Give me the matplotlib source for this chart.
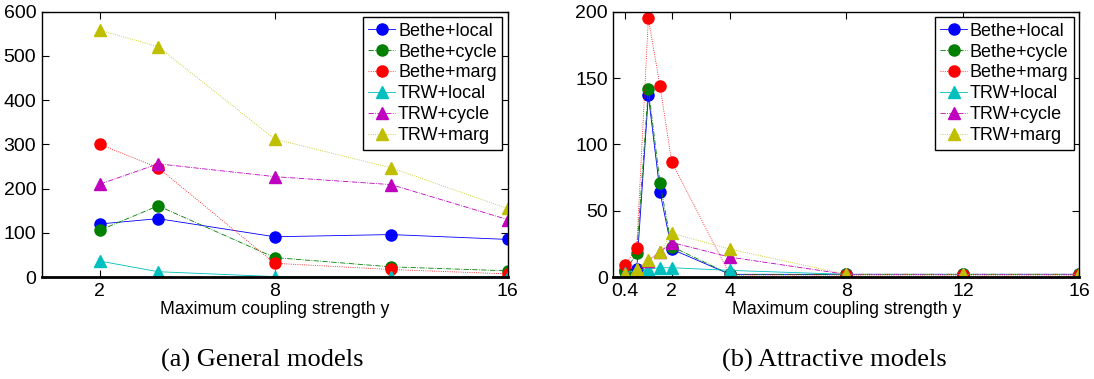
import numpy as np
import matplotlib
matplotlib.use('Agg')
import matplotlib.pyplot as plt

plt.rcParams['font.family'] = ['Liberation Sans', 'DejaVu Sans']

# ---------------- data ----------------
series_names = ['Bethe+local', 'Bethe+cycle', 'Bethe+marg',
                'TRW+local', 'TRW+cycle', 'TRW+marg']

# (a) general models
x_general = [2, 4, 8, 12, 16]
general = {
    'Bethe+local': [120, 132, 91, 96, 85],
    'Bethe+cycle': [106, 161, 44, 23, 14],
    'Bethe+marg':  [300, 247, 31, 17, 7],
    'TRW+local':   [36, 12, 1, 0.5, 0.5],
    'TRW+cycle':   [210, 256, 227, 209, 130],
    'TRW+marg':    [558, 521, 312, 247, 155],
}

# (b) attractive models
x_attract = [0.4, 0.8, 1.2, 1.6, 2, 4, 8, 12, 16]
attract = {
    'Bethe+local': [5, 6, 137, 64, 21, 2, 2, 2, 2],
    'Bethe+cycle': [4, 18, 142, 71, 23, 2, 2, 2, 2],
    'Bethe+marg':  [9, 22, 195, 144, 87, 1.5, 1.5, 1.5, 1.5],
    'TRW+local':   [3, 5, 6, 7, 7, 5, 2, 2, 2],
    'TRW+cycle':   [2, 4, 12, 19, 26, 15, 2, 2, 2],
    'TRW+marg':    [2.5, 6, 13, 19, 33, 21, 2, 2, 2],
}

# ---------------- styles ----------------
styles = {
    'Bethe+local': dict(color='b', ls='-', marker='o'),
    'Bethe+cycle': dict(color=(0, 0.5, 0), ls='-.', marker='o'),
    'Bethe+marg':  dict(color='r', ls=':', marker='o'),
    'TRW+local':   dict(color=(0, 0.75, 0.75), ls='-', marker='^'),
    'TRW+cycle':   dict(color=(0.75, 0, 0.75), ls='-.', marker='^'),
    'TRW+marg':    dict(color=(0.75, 0.75, 0), ls=':', marker='^'),
}

fig = plt.figure(figsize=(10.94, 3.79), dpi=100)
ax1 = fig.add_axes((0.0381, 0.2691, 0.4258, 0.700))
ax2 = fig.add_axes((0.5607, 0.2691, 0.4260, 0.700))


def draw(ax, xs, data, xticks, yticks, ylim):
    for name in series_names:
        st = styles[name]
        ax.plot(xs, data[name], color=st['color'], linestyle=st['ls'],
                marker=st['marker'], markersize=8, linewidth=0.6,
                markerfacecolor=st['color'], markeredgecolor=st['color'],
                label=name)
    ax.set_xlim(0, 16)
    ax.set_ylim(*ylim)
    ax.set_xticks(xticks)
    ax.set_xticklabels([('%g' % t) for t in xticks])
    ax.set_yticks(yticks)
    ax.tick_params(direction='in', top=True, right=True, labelsize=14,
                   length=5, width=0.8, pad=4)
    for sp in ax.spines.values():
        sp.set_linewidth(1.0)
    ax.spines['bottom'].set_linewidth(2.0)
    ax.set_xlabel('Maximum coupling strength y', fontsize=12.7, labelpad=1)
    leg = ax.legend(loc='upper right', fontsize=13, handlelength=1.5,
                    handletextpad=0.15, borderpad=0.3, labelspacing=0.22,
                    borderaxespad=0.3, fancybox=False, framealpha=1,
                    edgecolor='black', markerscale=1.0)
    leg.get_frame().set_linewidth(1.0)


draw(ax1, x_general, general, [2, 8, 16], np.arange(0, 601, 100), (0, 600))
draw(ax2, x_attract, attract, [0.4, 2, 4, 8, 12, 16], np.arange(0, 201, 50), (0, 200))

fig.text(0.2395, 0.048, '(a) General models', family='Liberation Serif',
         fontsize=19, ha='center', va='center')
fig.text(0.763, 0.048, '(b) Attractive models', family='Liberation Serif',
         fontsize=19, ha='center', va='center')

fig.savefig('out.png', dpi=100)
